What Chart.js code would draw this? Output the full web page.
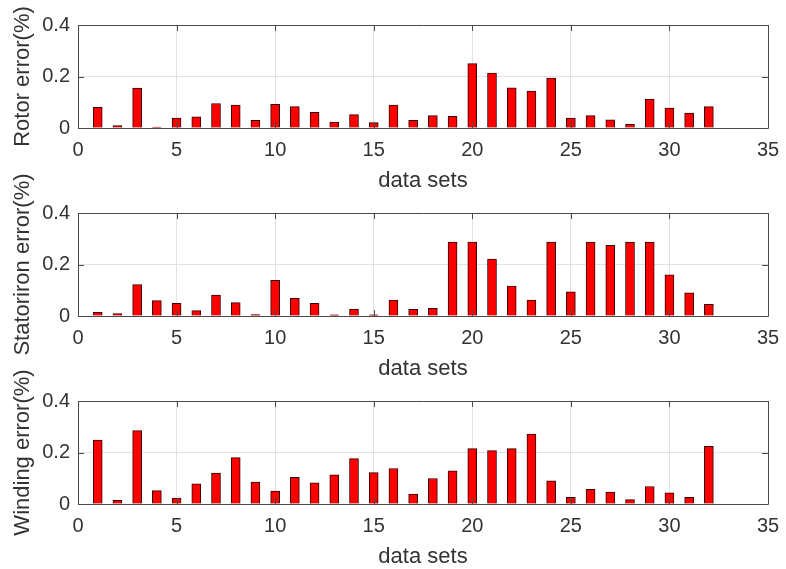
<!DOCTYPE html>
<html>
<head>
<meta charset="utf-8">
<script src="https://cdn.jsdelivr.net/npm/chart.js@4.4.1/dist/chart.umd.min.js"></script>
<style>
body{margin:0;background:#fff;}
#wrap{position:relative;width:786px;height:569px;overflow:hidden;background:#fff;}
.panel{position:absolute;left:0;width:786px;height:232px;}
</style>
</head>
<body>
<div id="wrap">
<div class="panel" style="top:-40px"><canvas id="rotor" width="786" height="232"></canvas></div>
<div class="panel" style="top:148px"><canvas id="stator" width="786" height="232"></canvas></div>
<div class="panel" style="top:336px"><canvas id="winding" width="786" height="232"></canvas></div>
</div>
<script>
// data set index (x) and the error of each part (%)
const dataSets = [1,2,3,4,5,6,7,8,9,10,11,12,13,14,15,16,17,18,19,20,21,22,23,24,25,26,27,28,29,30,31,32]

const rotorError = [0.080,0.009,0.155,0.004,0.039,0.043,0.095,0.089,0.030,0.092,0.083,0.061,0.023,0.052,0.021,0.089,
                    0.030,0.048,0.045,0.250,0.213,0.156,0.143,0.194,0.039,0.048,0.032,0.014,0.112,0.077,0.058,0.083]

const statorIronError = [0.014,0.009,0.122,0.060,0.049,0.021,0.081,0.052,0.006,0.139,0.069,0.049,0.005,0.027,0.005,0.062,
                         0.026,0.030,0.287,0.287,0.221,0.116,0.062,0.287,0.094,0.287,0.274,0.287,0.287,0.160,0.090,0.045]

const windingError = [0.248,0.014,0.285,0.052,0.023,0.078,0.120,0.180,0.085,0.050,0.104,0.082,0.113,0.176,0.122,0.138,
                      0.039,0.099,0.129,0.215,0.207,0.215,0.272,0.090,0.026,0.057,0.046,0.017,0.068,0.043,0.026,0.224]

const yTitles = ["Rotor error(%)", "Statoriron error(%)", "Winding error(%)"]
const xTitle = "data sets"

const FONT = "'Liberation Sans', Arial, Helvetica, sans-serif"
const TEXT = "#333333"
const AXIS = "#4a4a4a"
const GRID = "#e2e2e2"

// matlab style box round the axes with inward ticks
const boxPlugin = {
  id: "axesBox",
  afterDatasetsDraw(chart) {
    const {ctx, chartArea: a, scales: {x, y}} = chart
    ctx.save()
    ctx.strokeStyle = AXIS
    ctx.lineWidth = 1
    ctx.beginPath()
    ctx.rect(Math.round(a.left) + 0.5, Math.round(a.top) + 0.5, Math.round(a.width), Math.round(a.height))
    x.ticks.forEach(t => {
      const px = Math.round(x.getPixelForValue(t.value)) + 0.5
      ctx.moveTo(px, a.bottom); ctx.lineTo(px, a.bottom - 6)
      ctx.moveTo(px, a.top); ctx.lineTo(px, a.top + 6)
    })
    y.ticks.forEach(t => {
      const py = Math.round(y.getPixelForValue(t.value)) + 0.5
      ctx.moveTo(a.left, py); ctx.lineTo(a.left + 6, py)
      ctx.moveTo(a.right, py); ctx.lineTo(a.right - 6, py)
    })
    ctx.stroke()
    ctx.restore()
  }
}

function makePanel(id, values, yTitle){
  new Chart(document.getElementById(id), {
    type: "bar",
    data: {
      datasets: [{
        data: dataSets.map((d, i) => ({x: d, y: values[i]})),
        backgroundColor: "#ff0000",
        borderColor: "#300000",
        borderWidth: 1,
        barThickness: 9
      }]
    },
    options: {
      responsive: false,
      animation: false,
      layout: {padding: {top: 65, right: 18, left: 0, bottom: 0}},
      plugins: {legend: {display: false}, tooltip: {enabled: false}},
      scales: {
        x: {
          type: "linear",
          offset: false,
          min: 0, max: 35,
          afterFit: s => { s.height = 64; s.paddingLeft = 0; s.paddingRight = 0 },
          ticks: {stepSize: 5, color: TEXT, font: {family: FONT, size: 20}, padding: 10, maxRotation: 0},
          grid: {color: GRID, drawTicks: false, offset: false},
          border: {display: false},
          title: {display: true, text: xTitle, color: TEXT, font: {family: FONT, size: 22}, padding: {top: 0, bottom: -2}}
        },
        y: {
          min: 0, max: 0.4,
          afterFit: s => { s.width = 78; s.paddingTop = 0; s.paddingBottom = 0 },
          ticks: {stepSize: 0.2, color: TEXT, font: {family: FONT, size: 20}, padding: 8},
          grid: {color: GRID, drawTicks: false},
          border: {display: false},
          title: {display: true, text: yTitle, color: TEXT, font: {family: FONT, size: 22}, padding: {top: 10, bottom: 0}}
        }
      }
    },
    plugins: [boxPlugin]
  })
}

makePanel("rotor", rotorError, yTitles[0])
makePanel("stator", statorIronError, yTitles[1])
makePanel("winding", windingError, yTitles[2])
</script>
</body>
</html>
